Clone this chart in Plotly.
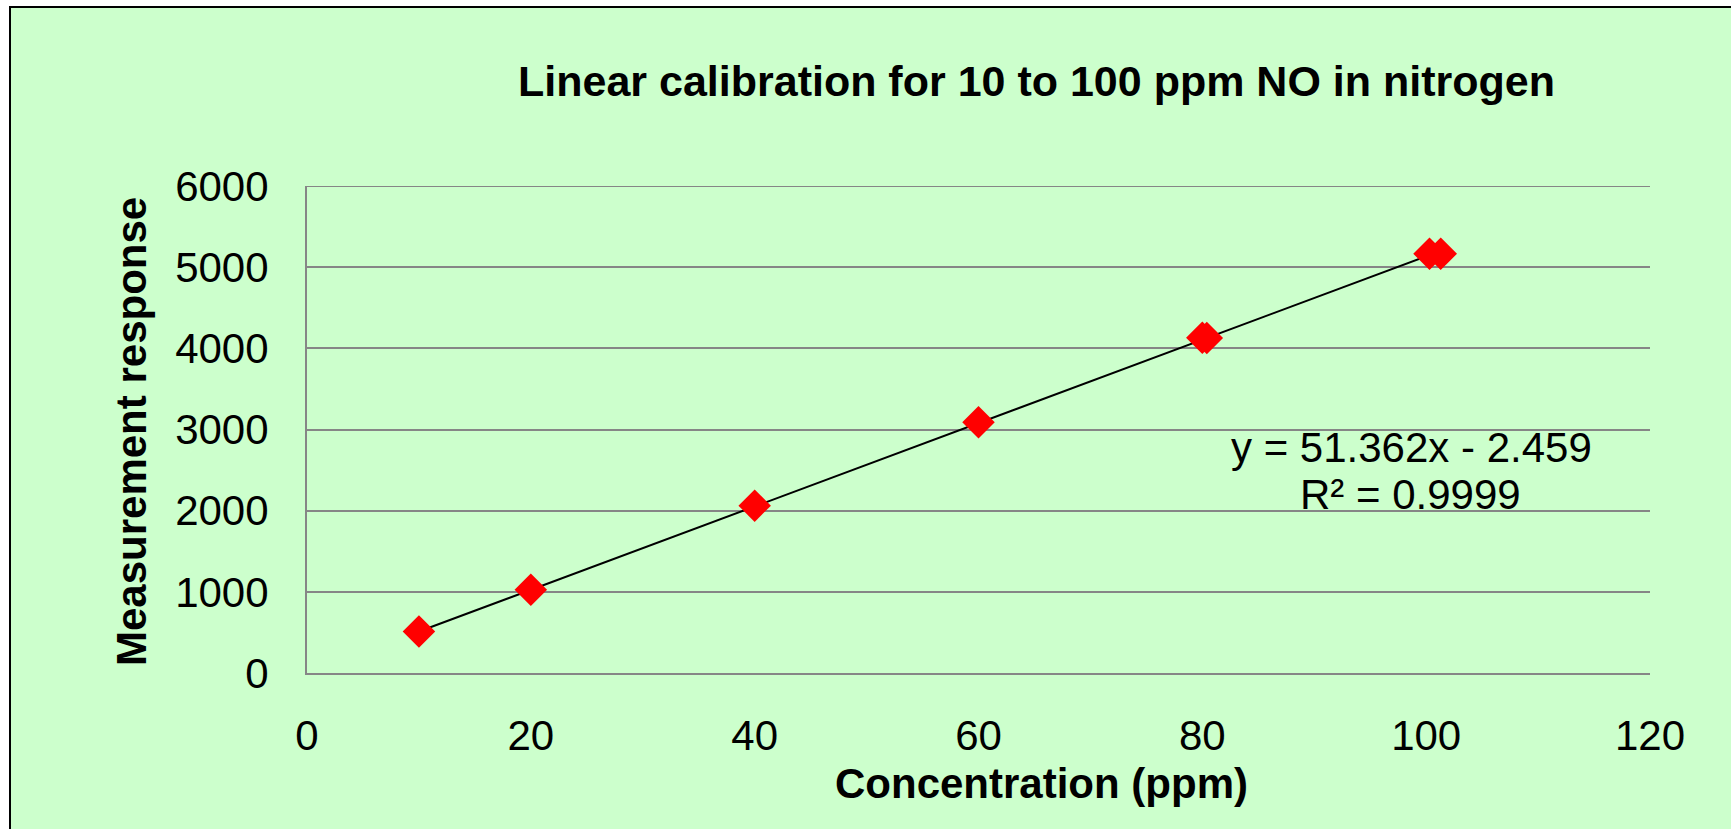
import numpy as np
import plotly.graph_objects as go

# ---- data ----
concentration_ppm = [10, 20, 40, 60, 80, 80.4, 100.3, 101.3]
measurement_response = [510, 1025, 2062, 3090, 4131, 4128, 5165, 5165]
fit_slope = 51.362
fit_intercept = -2.459
fit_r2 = 0.9999
x_ticks = [0, 20, 40, 60, 80, 100, 120]
y_ticks = [0, 1000, 2000, 3000, 4000, 5000, 6000]

title_text = "Linear calibration for 10 to 100 ppm NO in nitrogen"
x_title = "Concentration (ppm)"
y_title = "Measurement response"
eq_text = "y = 51.362x - 2.459"
r2_text = "R² = 0.9999"

# ---- layout geometry (pixels) ----
W, H = 1731, 829
L, R, T, B = 307, 1650, 186, 673
FONT = "Arial, Liberation Sans, sans-serif"
GREEN = "#CCFFCC"
GRID = "#868686"


def px(xp):
    return (xp - L) / (R - L)


def py(yp):
    return (B - yp) / (B - T)


fit_x = np.array([min(concentration_ppm), max(concentration_ppm)])
fit_y = fit_slope * fit_x + fit_intercept

fig = go.Figure()
fig.add_trace(go.Scatter(
    x=fit_x, y=fit_y, mode="lines",
    line=dict(color="black", width=2), hoverinfo="skip", showlegend=False))
fig.add_trace(go.Scatter(
    x=concentration_ppm, y=measurement_response, mode="markers",
    marker=dict(symbol="diamond", size=25, color="#FF0000", line=dict(width=0)),
    showlegend=False))

shapes = [dict(type="rect", xref="paper", yref="paper", layer="below",
               x0=px(10), x1=px(W + 20), y0=py(H + 20), y1=py(7),
               fillcolor=GREEN, line=dict(color="black", width=2))]
# top gridline (plotly omits the grid line lying on the plot edge)
shapes.append(dict(type="line", xref="paper", yref="y", layer="below",
                   x0=0, x1=1, y0=y_ticks[-1], y1=y_ticks[-1],
                   line=dict(color=GRID, width=2)))

fig.update_layout(
    width=W, height=H,
    margin=dict(l=L, r=W - R, t=T, b=H - B, pad=0),
    paper_bgcolor="white",
    plot_bgcolor="rgba(0,0,0,0)",
    font=dict(family=FONT, size=42, color="black"),
    showlegend=False,
    xaxis=dict(range=[0, 120], tickvals=x_ticks, showgrid=False, zeroline=False,
               showline=True, linecolor=GRID, linewidth=2, ticks="",
               ticklabelstandoff=25, tickfont=dict(size=42)),
    yaxis=dict(range=[0, 6000], tickvals=y_ticks, showgrid=True, gridcolor=GRID,
               gridwidth=2, zeroline=False, showline=True, linecolor=GRID,
               linewidth=2, ticks="", ticklabelstandoff=28, tickfont=dict(size=42)),
    shapes=shapes,
    annotations=[
        dict(text=f"<b>{title_text}</b>", xref="paper", yref="paper",
             x=px(1036), y=py(81), showarrow=False, xanchor="center", yanchor="middle",
             font=dict(size=43)),
        dict(text=f"<b>{x_title}</b>", xref="paper", yref="paper",
             x=px(1041), y=py(783), showarrow=False, xanchor="center", yanchor="middle",
             font=dict(size=42)),
        dict(text=f"<b>{y_title}</b>", xref="paper", yref="paper",
             x=px(131), y=py(432), showarrow=False, xanchor="center", yanchor="middle",
             textangle=-90, font=dict(size=42)),
        dict(text=eq_text, xref="paper", yref="paper",
             x=px(1411), y=py(447), showarrow=False, xanchor="center", yanchor="middle",
             font=dict(size=42)),
        dict(text=r2_text, xref="paper", yref="paper",
             x=px(1410), y=py(494), showarrow=False, xanchor="center", yanchor="middle",
             font=dict(size=42)),
    ],
)

fig.write_html("out.html", config={"displayModeBar": False},
               post_script="document.body.style.margin='0';")
